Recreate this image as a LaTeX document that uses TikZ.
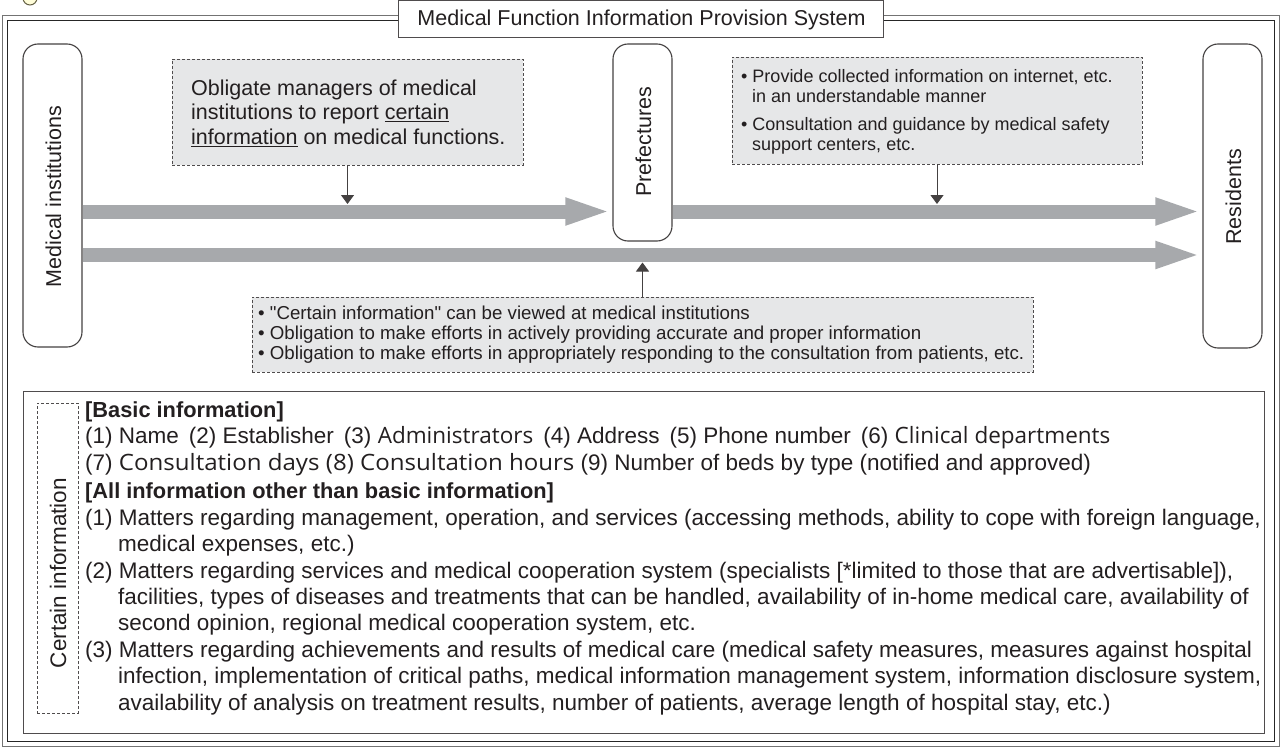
\documentclass[tikz,border=0pt]{standalone}
\usepackage{fontspec}
\setmainfont{Liberation Sans}[Ligatures=TeXOff]
\newfontfamily\mfont{Open Sans}
\newfontfamily\mfontw{Open Sans}[FakeStretch=1.07]
\usetikzlibrary{arrows.meta}
\definecolor{barc}{HTML}{A7A9AC}
\definecolor{notec}{HTML}{E6E7E8}
\definecolor{ink}{HTML}{231F20}
\begin{document}
\begin{tikzpicture}[x=1pt,y=-1pt,
  ent/.style={draw=ink!85, line width=1.1pt, rounded corners=15pt, fill=white, inner sep=0pt},
  lbl/.style={inner sep=0pt, font=\fontsize{21.5}{26}\selectfont, text=ink},
  notebox/.style={draw=ink!80, dash pattern=on 3pt off 2pt, fill=notec, line width=0.9pt, inner sep=0pt},
  dashbox/.style={draw=ink!80, dash pattern=on 3pt off 2pt, line width=0.9pt, inner sep=0pt},
  bigarrow/.style={draw=barc, line width=14pt, -{Triangle[width=24pt,length=47pt]}},
  ptr/.style={draw=ink!85, line width=1pt, -{Triangle[width=13pt,length=9pt]}},
  notetext/.style={inner sep=0pt, anchor=base west, font=\fontsize{21.5}{26}\selectfont, text=ink},
  body/.style={inner sep=0pt, anchor=base west, font=\fontsize{22.5}{26}\selectfont, text=ink},
  head/.style={inner sep=0pt, anchor=base west, font=\fontsize{21.8}{26}\selectfont\bfseries, text=ink},
  small/.style={inner sep=0pt, anchor=base west, font=\fontsize{18}{20}\selectfont, text=ink},
  smallb/.style={inner sep=0pt, anchor=base west, font=\fontsize{18.7}{20}\selectfont, text=ink}]
\useasboundingbox (0,0) rectangle (1283,749);
% corner mark
\draw[draw=black!70!yellow, fill=yellow!15, line width=1pt] (30,-2) circle (7);
% double frame
\draw[black!55, line width=1.1pt] (2.5,15.5) rectangle (1279.5,746.5);
\draw[black!85, line width=1.1pt] (7.5,20.5) rectangle (1274.5,741.5);
% title
\node[draw=ink!80, line width=1pt, fill=white, minimum width=485pt, minimum height=37.5pt, inner sep=0pt] (title) at (640.5,19.25) {};
\node[lbl] (titletext) at (641.5,19.5) {Medical Function Information Provision System};
% entity boxes
\node[ent, minimum width=59pt, minimum height=303pt] (med) at (52.5,195.5) {};
\node[lbl, rotate=90] (medtext) at (53.5,196.5) {Medical institutions};
\node[ent, minimum width=59pt, minimum height=197pt] (pref) at (642.5,142.5) {};
\node[lbl, rotate=90] (preftext) at (643.5,142) {Prefectures};
\node[ent, minimum width=59pt, minimum height=304pt] (res) at (1232.5,196) {};
\node[lbl, rotate=90] (restext) at (1233.5,197) {Residents};
% big arrows
\coordinate (ya) at (0,211.5);
\coordinate (yb) at (0,255);
\draw[bigarrow] (med.east |- ya) -- (pref.west |- ya);
\draw[bigarrow] (pref.east |- ya) -- (res.west |- ya);
\draw[bigarrow] (med.east |- yb) -- (res.west |- yb);
% note 1
\node[notebox, minimum width=351pt, minimum height=106pt] (n1) at (347.5,112) {};
\node[notetext] (n1a) at (191,95.5) {Obligate managers of medical};
\node[notetext] (n1b) at (191,120) {institutions to report \underline{certain}};
\node[notetext] (n1c) at (191,144.5) {\underline{information} on medical functions.};
\coordinate (t1) at (347.5,204);
\draw[ptr] (n1.south) -- (t1);
% note 2
\node[notebox, minimum width=410pt, minimum height=107pt] (n2) at (937,110.5) {};
\node[small] (n2a) at (741,83) {• Provide collected information on internet, etc.};
\node[small] (n2b) at (752,103) {in an understandable manner};
\node[small] (n2c) at (741,131) {• Consultation and guidance by medical safety};
\node[small] (n2d) at (752,151) {support centers, etc.};
\coordinate (t2) at (937,204);
\draw[ptr] (n2.south) -- (t2);
% note 3
\node[notebox, minimum width=781pt, minimum height=75pt] (n3) at (642.5,334.5) {};
\node[smallb] (n3a) at (258,319.5) {• "Certain information" can be viewed at medical institutions};
\node[smallb] (n3b) at (258,339.5) {• Obligation to make efforts in actively providing accurate and proper information};
\node[smallb] (n3c) at (258,359.5) {• Obligation to make efforts in appropriately responding to the consultation from patients, etc.};
\coordinate (t3) at (642.5,262.5);
\draw[ptr] (n3.north) -- (t3);
% certain information box
\node[draw=ink!80, line width=1pt, minimum width=1241pt, minimum height=342pt, inner sep=0pt] (info) at (643.5,562) {};
\node[dashbox, minimum width=41pt, minimum height=310pt] (ci) at (57.5,558) {};
\node[lbl, rotate=90, font=\fontsize{22.5}{26}\selectfont] (citext) at (58,573) {Certain information};
\node[head] (l1) at (85,417.5) {[Basic information]};
\node[body] (l2) at (85,443.5) {(1) Name\ \,(2) Establisher\ \,(3) {\mfont Administrators}\ \,(4) Address\ \,(5) Phone number\ \,(6) {\mfont Clinical departments}};
\node[body] (l3) at (85,470.5) {(7) {\mfontw Consultation days (8) Consultation hours} (9) Number of beds by type (notified and approved)};
\node[head] (l4) at (85,498.5) {[All information other than basic information]};
\node[body] (l5) at (85,525.5) {(1) Matters regarding management, operation, and services (accessing methods, ability to cope with foreign language,};
\node[body] (l6) at (118,551.5) {medical expenses, etc.)};
\node[body] (l7) at (85,578.5) {(2) Matters regarding services and medical cooperation system (specialists [*limited to those that are advertisable]),};
\node[body] (l8) at (118,604.5) {facilities, types of diseases and treatments that can be handled, availability of in-home medical care, availability of};
\node[body] (l9) at (118,630.5) {second opinion, regional medical cooperation system, etc.};
\node[body] (l10) at (85,657.5) {(3) Matters regarding achievements and results of medical care (medical safety measures, measures against hospital};
\node[body] (l11) at (118,683.5) {infection, implementation of critical paths, medical information management system, information disclosure system,};
\node[body] (l12) at (118,710.5) {availability of analysis on treatment results, number of patients, average length of hospital stay, etc.)};
\end{tikzpicture}
\end{document}
